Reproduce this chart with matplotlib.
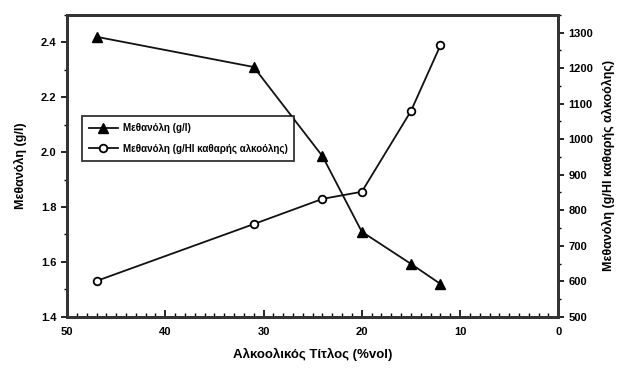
import matplotlib
matplotlib.use("Agg")
import matplotlib.pyplot as plt
from matplotlib.ticker import MultipleLocator

plt.rcParams['font.family'] = ['Liberation Sans', 'DejaVu Sans']
plt.rcParams['font.weight'] = 'bold'
plt.rcParams['axes.labelweight'] = 'bold'

# data
alc_tri = [47, 31, 24, 20, 15, 12]
meth_gl = [2.42, 2.31, 1.985, 1.71, 1.593, 1.52]
alc_circ = [47, 31, 24, 20, 15, 12]
meth_ghl = [601, 761, 832, 852, 1079, 1264]

lab1 = 'Μεθανόλη (g/l)'
lab2 = 'Μεθανόλη (g/Hl καθαρής αλκοόλης)'

fig = plt.figure(figsize=(6.21, 3.71), dpi=100)
ax = fig.add_axes([0.108, 0.146, 0.791, 0.814])
ax2 = ax.twinx()

l1, = ax.plot(alc_tri, meth_gl, color='#111111', lw=1.3, marker='^', ms=6.5,
              mfc='black', mec='black', label=lab1)
l2, = ax2.plot(alc_circ, meth_ghl, color='#111111', lw=1.3, marker='o', ms=5.5,
               mfc='white', mec='black', mew=1.3, label=lab2)

ax.set_xlim(50, 0)
ax.set_ylim(1.4, 2.5)
ax2.set_ylim(500, 1350)

ax.xaxis.set_major_locator(MultipleLocator(10))
ax.xaxis.set_minor_locator(MultipleLocator(1))
ax.yaxis.set_major_locator(MultipleLocator(0.2))
ax.yaxis.set_minor_locator(MultipleLocator(0.1))
ax2.yaxis.set_major_locator(MultipleLocator(100))
ax2.yaxis.set_minor_locator(MultipleLocator(50))

ax.tick_params(axis='x', which='major', direction='in', length=5, width=1.2, labelsize=8, pad=7)
ax.tick_params(axis='x', which='minor', direction='in', length=3, width=1)
ax.tick_params(axis='y', which='major', direction='out', length=4, width=1.2, labelsize=8)
ax.tick_params(axis='y', which='minor', direction='out', length=2.5, width=1)
ax2.tick_params(axis='y', which='major', direction='out', length=4, width=1.2, labelsize=8)
ax2.tick_params(axis='y', which='minor', direction='out', length=2.5, width=1)

ax.yaxis.set_major_formatter(matplotlib.ticker.FormatStrFormatter('%.1f'))

for a in (ax, ax2):
    for s in a.spines.values():
        s.set_linewidth(2)
        s.set_color('#333333')

ax.set_xlabel('Αλκοολικός Τίτλος (%vol)', fontsize=9.5, labelpad=8)
ax.set_ylabel(lab1, fontsize=9, labelpad=10)
ax2.set_ylabel(lab2, fontsize=9, labelpad=6)

leg = ax.legend(handles=[l1, l2], loc='upper left', bbox_to_anchor=(0.02, 0.68),
                fontsize=7, frameon=True, fancybox=False, edgecolor='black',
                handlelength=3, borderpad=0.7, labelspacing=1.1, handletextpad=0.5)
leg.get_frame().set_linewidth(1.3)

fig.savefig('out.png', dpi=100)
